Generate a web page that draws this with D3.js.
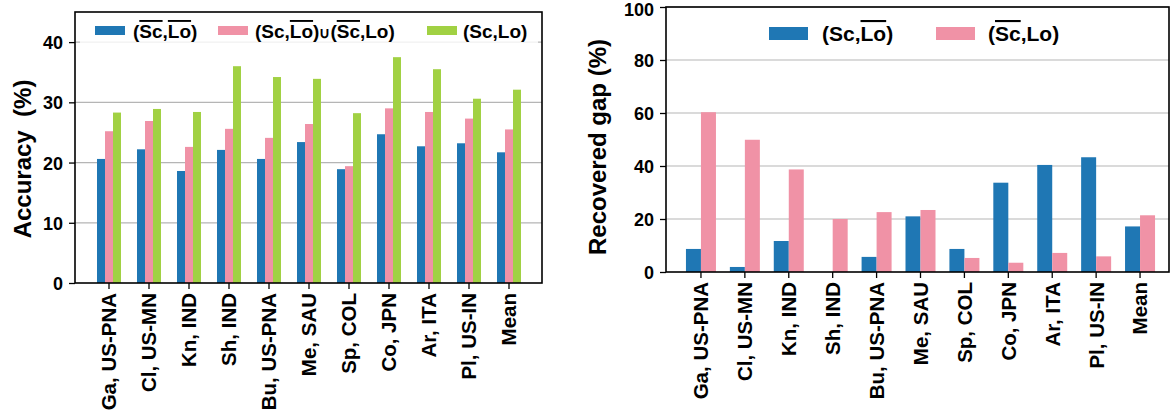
<!DOCTYPE html>
<html lang="en">
<head>
    <meta charset="UTF-8">
    <title>Accuracy and recovered gap</title>
    <style>
        body { margin: 0; background: #fff; }
        svg text { font-family: "Liberation Sans", Arial, sans-serif; font-weight: bold; fill: #000; }
    </style>
</head>
<body>
    <div id="chart"></div>
    <script src="https://d3js.org/d3.v7.min.js"></script>
    <script>
        // categories shared by both panels
        const categories = ["Ga, US-PNA", "Cl, US-MN", "Kn, IND", "Sh, IND", "Bu, US-PNA",
            "Me, SAU", "Sp, COL", "Co, JPN", "Ar, ITA", "Pl, US-IN", "Mean"];

        // left panel: accuracy (%)
        const accNone = [20.6, 22.2, 18.6, 22.1, 20.6, 23.4, 18.9, 24.7, 22.7, 23.2, 21.7];
        const accOne  = [25.2, 26.9, 22.6, 25.6, 24.1, 26.4, 19.4, 29.0, 28.4, 27.3, 25.5];
        const accBoth = [28.3, 28.9, 28.4, 36.0, 34.2, 33.9, 28.2, 37.5, 35.5, 30.6, 32.1];
        const accTicks = [0, 10, 20, 30, 40];

        // right panel: recovered gap (%)
        const gapSc = [8.7, 1.9, 11.7, 0.0, 5.7, 21.0, 8.7, 33.7, 40.4, 43.3, 17.2];
        const gapLo = [60.3, 49.9, 38.7, 20.0, 22.6, 23.4, 5.3, 3.5, 7.2, 5.9, 21.4];
        const gapTicks = [0, 20, 40, 60, 80, 100];

        const blue = "#1f77b4", pink = "#f092a6", green = "#a1d143";

        const svg = d3.select("#chart").append("svg")
            .attr("width", 1171)
            .attr("height", 417);

        function drawPanel(p) {
            const x = d3.scaleBand().domain(categories).range(p.bandRange);
            const y = d3.scaleLinear().domain(p.yDomain).range([p.bottom, p.top]);
            const g = svg.append("g");

            // grid
            g.selectAll(".grid")
                .data(p.ticks.slice(1))
                .enter()
                .append("line")
                .attr("x1", p.left).attr("x2", p.right)
                .attr("y1", d => y(d)).attr("y2", d => y(d))
                .style("stroke", "#b5b5b5")
                .style("stroke-width", 1.2);

            // bars
            p.series.forEach((s, k) => {
                g.selectAll(".bar" + k)
                    .data(s.values)
                    .enter()
                    .append("rect")
                    .attr("x", (d, i) => x(categories[i]) + x.bandwidth() / 2 + p.offsets[k])
                    .attr("width", p.barWidth)
                    .attr("y", d => y(d))
                    .attr("height", d => y(0) - y(d))
                    .style("fill", s.color);
            });

            // axes
            const yAxis = g.append("g")
                .attr("transform", `translate(${p.left},0)`)
                .call(d3.axisLeft(y).tickValues(p.ticks).tickSize(6).tickPadding(6));
            yAxis.select(".domain").remove();
            yAxis.selectAll("line").style("stroke", "#000").style("stroke-width", 1.3);
            yAxis.selectAll("text").style("font-size", "18px")
                .attr("dy", d => y(d) < 10 ? "0.45em" : "0.36em");

            const xAxis = g.append("g")
                .attr("transform", `translate(0,${p.bottom})`)
                .call(d3.axisBottom(x).tickSize(6));
            xAxis.select(".domain").remove();
            xAxis.selectAll("line").style("stroke", "#000").style("stroke-width", 1.3);
            xAxis.selectAll("text")
                .attr("transform", "rotate(-90)")
                .attr("x", -10)
                .attr("y", 0)
                .attr("dy", "0.36em")
                .attr("text-anchor", "end")
                .style("font-size", "20.5px");

            // frame
            g.append("rect")
                .attr("x", p.left).attr("y", p.top)
                .attr("width", p.right - p.left).attr("height", p.bottom - p.top)
                .style("fill", "none")
                .style("stroke", "#000")
                .style("stroke-width", 1.6);

            // y title
            g.append("text")
                .attr("transform", `translate(${p.titleX},${p.titleY}) rotate(-90)`)
                .attr("text-anchor", "middle")
                .attr("dy", "0.36em")
                .style("font-size", "24px")
                .style("white-space", "pre")
                .text(p.title);
            return g;
        }

        function legendText(g, xPos, yPos, size, parts) {
            const t = g.append("text")
                .attr("x", xPos).attr("y", yPos)
                .style("font-size", size + "px");
            parts.forEach(pt => {
                const ts = t.append("tspan").text(pt.t);
                if (pt.o) ts.style("text-decoration", "overline");
                if (pt.small) ts.style("font-size", (size * 0.8) + "px");
            });
        }

        const left = drawPanel({
            left: 75, right: 542, top: 12, bottom: 283,
            bandRange: [89, 529], yDomain: [0, 45], ticks: accTicks,
            barWidth: 8, offsets: [-12, -4, 4],
            series: [{values: accNone, color: blue}, {values: accOne, color: pink}, {values: accBoth, color: green}],
            title: "Accuracy  (%)", titleX: 22, titleY: 159
        });

        const right = drawPanel({
            left: 666, right: 1169, top: 7, bottom: 272,
            bandRange: [679, 1162], yDomain: [0, 100], ticks: gapTicks,
            barWidth: 15, offsets: [-15, 0],
            series: [{values: gapSc, color: blue}, {values: gapLo, color: pink}],
            title: "Recovered gap (%)", titleX: 597, titleY: 147
        });

        // left legend
        left.append("rect")
            .attr("x", 80).attr("y", 14).attr("width", 458).attr("height", 30)
            .style("fill", "#fff").style("opacity", 0.8);
        [[95, blue], [218, pink], [427, green]].forEach(s => {
            left.append("rect").attr("x", s[0]).attr("y", 26).attr("width", 30).attr("height", 9)
                .style("fill", s[1]);
        });
        legendText(left, 133, 38, 19, [{t: "("}, {t: "Sc", o: true}, {t: ","}, {t: "Lo", o: true}, {t: ")"}]);
        legendText(left, 255, 38, 19, [{t: "(Sc,"}, {t: "Lo", o: true}, {t: ")"}, {t: "\u222A", small: true},
            {t: "("}, {t: "Sc", o: true}, {t: ",Lo)"}]);
        legendText(left, 463, 38, 19, [{t: "(Sc,Lo)"}]);

        // right legend
        [[769, blue], [936, pink]].forEach(s => {
            right.append("rect").attr("x", s[0]).attr("y", 27).attr("width", 39).attr("height", 13)
                .style("fill", s[1]);
        });
        legendText(right, 822, 41, 21, [{t: "(Sc,"}, {t: "Lo", o: true}, {t: ")"}]);
        legendText(right, 988, 41, 21, [{t: "("}, {t: "Sc", o: true}, {t: ",Lo)"}]);
    </script>
</body>
</html>
